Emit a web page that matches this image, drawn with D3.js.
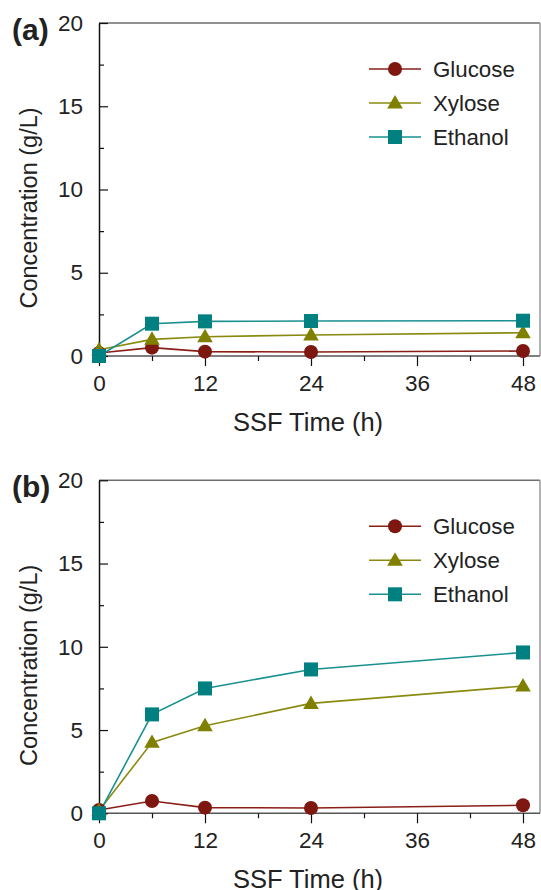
<!DOCTYPE html>
<html>
<head>
<meta charset="utf-8">
<script src="https://cdn.jsdelivr.net/npm/d3@7"></script>
<style>
  html, body { margin: 0; padding: 0; background: #fff; }
  svg { display: block; font-family: "Liberation Sans", Arial, Helvetica, sans-serif; }
</style>
</head>
<body>
<svg id="chart" width="541" height="890"></svg>
<script>
// ---- data ----
const times = [0, 6, 12, 24, 48];
const xTicks = [0, 12, 24, 36, 48];
const xMinorTicks = [6, 18, 30, 42];
const yTicks = [0, 5, 10, 15, 20];
const yMinorTicks = [2.5, 7.5, 12.5, 17.5];
const seriesNames = ["Glucose", "Xylose", "Ethanol"];

const glucoseA = [0.18, 0.5, 0.26, 0.24, 0.3];
const xyloseA  = [0.38, 1.0, 1.16, 1.26, 1.4];
const ethanolA = [0.0, 1.94, 2.08, 2.1, 2.12];

const glucoseB = [0.2, 0.74, 0.34, 0.32, 0.48];
const xyloseB  = [0.15, 4.26, 5.26, 6.6, 7.64];
const ethanolB = [0.0, 5.94, 7.5, 8.64, 9.66];

const panels = [
  { label: "(a)", series: [glucoseA, xyloseA, ethanolA] },
  { label: "(b)", series: [glucoseB, xyloseB, ethanolB] }
];

// ---- styles ----
const colors = ["#7d1710", "#808000", "#008080"];
const lineColors = ["#8a1f17", "#8a8a10", "#1a9090"];
const markers = ["circle", "triangle", "square"];

const svg = d3.select("#chart");
const panelOffset = 457.3;
const left = 99, rightEdge = 540, top0 = 23, bottom0 = 356;

const x = d3.scaleLinear().range([left, rightEdge]);
x.domain([0, 48 * (rightEdge - left) / (523 - left)]);

function drawMarker(g, type, cx, cy, color) {
  if (type === "circle") {
    g.append("circle").attr("cx", cx).attr("cy", cy).attr("r", 7).attr("fill", color);
  } else if (type === "square") {
    g.append("rect").attr("x", cx - 7).attr("y", cy - 7).attr("width", 14).attr("height", 14).attr("fill", color);
  } else {
    const s = d3.symbol().type(d3.symbolTriangle).size(105);
    g.append("path").attr("d", s()).attr("transform", `translate(${cx},${cy + 1})`).attr("fill", color);
  }
}

panels.forEach((p, pi) => {
  const off = pi * panelOffset;
  const g = svg.append("g").attr("transform", `translate(0,${off})`);
  const y = d3.scaleLinear().domain([0, 20]).range([bottom0, top0]);

  // frame top & right
  g.append("line").attr("x1", left).attr("x2", rightEdge).attr("y1", top0).attr("y2", top0)
    .attr("stroke", "#6e6e6e").attr("stroke-width", 1.5);
  g.append("line").attr("x1", rightEdge).attr("x2", rightEdge).attr("y1", top0).attr("y2", bottom0)
    .attr("stroke", "#9a9a9a").attr("stroke-width", 1.5);

  // x axis (ticks outward)
  const xAxis = d3.axisBottom(x).tickValues(xTicks).tickSize(10).tickSizeOuter(0).tickPadding(9).tickFormat(d3.format("d"));
  const xa = g.append("g").attr("transform", `translate(0,${bottom0})`).call(xAxis);
  xa.select(".domain").attr("stroke", "#555").attr("stroke-width", 1.5).attr("d", `M${left},0H${rightEdge}`);
  xa.selectAll(".tick line").attr("stroke", "#111").attr("stroke-width", 1.2);
  xa.selectAll(".tick text").attr("font-size", 22.5).attr("fill", "#222").attr("font-family", "Liberation Sans, Arial, sans-serif");
  const xm = d3.axisBottom(x).tickValues(xMinorTicks).tickSize(5).tickSizeOuter(0).tickFormat("");
  const xma = g.append("g").attr("transform", `translate(0,${bottom0})`).call(xm);
  xma.select(".domain").remove();
  xma.selectAll(".tick line").attr("stroke", "#111").attr("stroke-width", 1.2);

  // y axis (ticks inward)
  const yAxis = d3.axisLeft(y).tickValues(yTicks).tickSize(-9).tickSizeOuter(0).tickPadding(16).tickFormat(d3.format("d"));
  const ya = g.append("g").attr("transform", `translate(${left},0)`).call(yAxis);
  ya.select(".domain").attr("stroke", "#111").attr("stroke-width", 1.5);
  ya.selectAll(".tick line").attr("stroke", "#111").attr("stroke-width", 1.2);
  ya.selectAll(".tick text").attr("font-size", 22.5).attr("fill", "#222").attr("font-family", "Liberation Sans, Arial, sans-serif");
  const ym = d3.axisLeft(y).tickValues(yMinorTicks).tickSize(-5).tickSizeOuter(0).tickFormat("");
  const yma = g.append("g").attr("transform", `translate(${left},0)`).call(ym);
  yma.select(".domain").remove();
  yma.selectAll(".tick line").attr("stroke", "#111").attr("stroke-width", 1.2);

  // axis titles
  g.append("text").attr("x", 308).attr("y", 431).attr("text-anchor", "middle")
    .attr("font-size", 25.5).attr("fill", "#222").text("SSF Time (h)");
  g.append("text").attr("transform", "translate(37,208) rotate(-90)").attr("text-anchor", "middle")
    .attr("font-size", 23.5).attr("fill", "#222").text("Concentration (g/L)");

  // panel label
  g.append("text").attr("x", 12).attr("y", 40).attr("font-size", 30).attr("font-weight", "bold")
    .attr("fill", "#222").text(p.label);

  // lines
  const line = d3.line().x((d, i) => x(times[i])).y(d => y(d));
  p.series.forEach((vals, si) => {
    g.append("path").datum(vals).attr("d", line).attr("fill", "none")
      .attr("stroke", lineColors[si]).attr("stroke-width", 1.6);
  });
  // markers
  p.series.forEach((vals, si) => {
    const mg = g.append("g");
    vals.forEach((v, i) => drawMarker(mg, markers[si], x(times[i]), y(v), colors[si]));
  });

  // legend
  const legY = [69, 103, 137];
  seriesNames.forEach((name, si) => {
    const ly = legY[si];
    g.append("line").attr("x1", 369).attr("x2", 421).attr("y1", ly).attr("y2", ly)
      .attr("stroke", lineColors[si]).attr("stroke-width", 1.6);
    drawMarker(g, markers[si], 395, ly, colors[si]);
    g.append("text").attr("x", 433).attr("y", ly + 8).attr("font-size", 22.3).attr("fill", "#222").text(name);
  });
});
</script>
</body>
</html>
